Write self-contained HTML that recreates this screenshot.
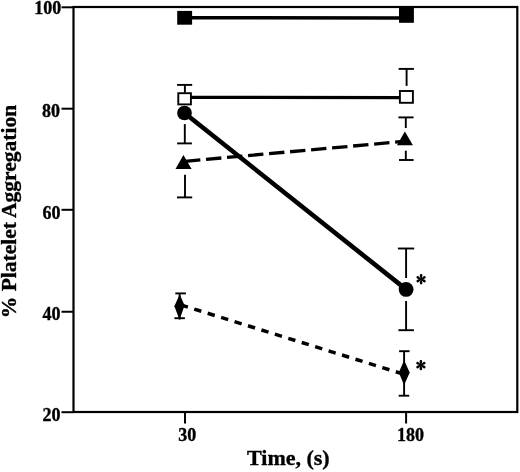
<!DOCTYPE html>
<html><head><meta charset="utf-8">
<style>
html,body{margin:0;padding:0;background:#fff;}
body{width:520px;height:472px;overflow:hidden;}
svg{display:block;will-change:transform;}
text{font-family:"Liberation Serif",serif;font-weight:bold;fill:#000;stroke:#000;stroke-width:0.35px;}
</style></head>
<body>
<svg width="520" height="472" viewBox="0 0 520 472">
<rect x="0" y="0" width="520" height="472" fill="#fff"/>
<!-- frame -->
<rect x="73.5" y="7" width="443.8" height="405" fill="none" stroke="#000" stroke-width="2.2"/>
<!-- y ticks -->
<g stroke="#000" stroke-width="2">
<line x1="61.5" y1="7.3" x2="73.5" y2="7.3"/>
<line x1="61.5" y1="108.7" x2="73.5" y2="108.7"/>
<line x1="61.5" y1="209.8" x2="73.5" y2="209.8"/>
<line x1="61.5" y1="311.75" x2="73.5" y2="311.75"/>
<line x1="61.5" y1="412.2" x2="73.5" y2="412.2"/>
<line x1="185" y1="412" x2="185" y2="423.5"/>
<line x1="406.1" y1="412" x2="406.1" y2="423.5"/>
</g>
<!-- y tick labels -->
<g font-size="18" text-anchor="end">
<text x="61.2" y="13.7">100</text>
<text x="60" y="117">80</text>
<text x="60.4" y="218.5">60</text>
<text x="60.4" y="320">40</text>
<text x="60.4" y="421">20</text>
</g>
<g font-size="18" text-anchor="middle">
<text x="187.2" y="441">30</text>
<text x="410.6" y="441.3">180</text>
</g>
<text x="247" y="465" font-size="22">Time, (s)</text>
<text transform="translate(15.6,318.2) rotate(-90)" font-size="21.5">% Platelet Aggregation</text>

<!-- filled square series -->
<line x1="184.7" y1="17.75" x2="406.4" y2="18" stroke="#000" stroke-width="3.5"/>
<rect x="177.2" y="10.9" width="14.9" height="13.8" fill="#000"/>
<rect x="399" y="7.8" width="14.9" height="15" fill="#000"/>

<!-- open square series -->
<line x1="184.6" y1="97.4" x2="406.4" y2="97.6" stroke="#000" stroke-width="3.2"/>
<g stroke="#000" stroke-width="1.9" fill="none">
<line x1="177.1" y1="84.9" x2="192.2" y2="84.9"/>
<line x1="184.9" y1="84.9" x2="184.9" y2="92.5"/>
<line x1="398.6" y1="68.9" x2="413.9" y2="68.9"/>
<line x1="406.6" y1="68.9" x2="406.6" y2="85.9"/>
</g>
<rect x="178.3" y="93.2" width="12.6" height="11.2" fill="#fff" stroke="#000" stroke-width="1.9"/>
<rect x="399.9" y="91" width="13" height="11.8" fill="#fff" stroke="#000" stroke-width="1.9"/>

<!-- circle series -->
<line x1="184.5" y1="113" x2="406.1" y2="289.4" stroke="#000" stroke-width="4.6"/>
<g stroke="#000" stroke-width="1.9" fill="none">
<line x1="184.8" y1="124.1" x2="184.8" y2="143.4"/>
<line x1="177.1" y1="143.4" x2="191.9" y2="143.4"/>
<line x1="397.9" y1="248.5" x2="414.2" y2="248.5"/>
<line x1="406.1" y1="248.5" x2="406.1" y2="278"/>
<line x1="406.1" y1="301" x2="406.1" y2="330.2"/>
<line x1="398.4" y1="330.2" x2="413.9" y2="330.2"/>
</g>
<circle cx="184.5" cy="113" r="7.35" fill="#000"/>
<circle cx="406.1" cy="289.4" r="7.4" fill="#000"/>

<!-- triangle series -->
<line x1="185" y1="161.3" x2="406" y2="141.2" stroke="#000" stroke-width="3.3" stroke-dasharray="15.4 5.7"/>
<g stroke="#000" stroke-width="1.9" fill="none">
<line x1="185" y1="174.8" x2="185" y2="197.4"/>
<line x1="177" y1="197.4" x2="192.2" y2="197.4"/>
<line x1="398.4" y1="117.4" x2="413.6" y2="117.4"/>
<line x1="405.8" y1="117.4" x2="405.8" y2="128"/>
<line x1="405.8" y1="150.7" x2="405.8" y2="160"/>
<line x1="399" y1="160" x2="413.6" y2="160"/>
</g>
<polygon points="183.4,155.1 191.6,169.1 175.5,169.1" fill="#000"/>
<polygon points="404.9,131.4 412.9,145.2 396.9,145.2" fill="#000"/>

<!-- diamond series -->
<line x1="179.5" y1="304.5" x2="404" y2="374.3" stroke="#000" stroke-width="3.5" stroke-dasharray="7.4 6.67" stroke-dashoffset="-1.37"/>
<g stroke="#000" stroke-width="1.9" fill="none">
<line x1="175.3" y1="293.4" x2="185.9" y2="293.4"/>
<line x1="174.4" y1="318.2" x2="184.9" y2="318.2"/>
<line x1="179.6" y1="293.4" x2="179.6" y2="319.5"/>
<line x1="399.1" y1="351.2" x2="409.6" y2="351.2"/>
<line x1="404.1" y1="351.2" x2="404.1" y2="395.7"/>
<line x1="398.7" y1="395.7" x2="409.2" y2="395.7"/>
</g>
<polygon points="179.7,294.2 184.6,305.6 179.5,319.8 174.4,306.3" fill="#000"/>
<polygon points="404.1,360.2 409.7,372.4 404.1,385.2 398.8,372.4" fill="#000"/>

<!-- asterisks -->
<g transform="translate(421.1,279.2)" fill="#000"><path transform="rotate(0)" d="M-0.45,0 C-0.7,-1.4 -1.35,-2.8 -1.3,-3.85 A1.3,1.35 0 0 1 1.3,-3.85 C1.35,-2.8 0.7,-1.4 0.45,0 Z"/><path transform="rotate(60)" d="M-0.45,0 C-0.7,-1.4 -1.35,-2.8 -1.3,-3.85 A1.3,1.35 0 0 1 1.3,-3.85 C1.35,-2.8 0.7,-1.4 0.45,0 Z"/><path transform="rotate(120)" d="M-0.45,0 C-0.7,-1.4 -1.35,-2.8 -1.3,-3.85 A1.3,1.35 0 0 1 1.3,-3.85 C1.35,-2.8 0.7,-1.4 0.45,0 Z"/><path transform="rotate(180)" d="M-0.45,0 C-0.7,-1.4 -1.35,-2.8 -1.3,-3.85 A1.3,1.35 0 0 1 1.3,-3.85 C1.35,-2.8 0.7,-1.4 0.45,0 Z"/><path transform="rotate(240)" d="M-0.45,0 C-0.7,-1.4 -1.35,-2.8 -1.3,-3.85 A1.3,1.35 0 0 1 1.3,-3.85 C1.35,-2.8 0.7,-1.4 0.45,0 Z"/><path transform="rotate(300)" d="M-0.45,0 C-0.7,-1.4 -1.35,-2.8 -1.3,-3.85 A1.3,1.35 0 0 1 1.3,-3.85 C1.35,-2.8 0.7,-1.4 0.45,0 Z"/><circle r="1"/></g>
<g transform="translate(420.9,365.1)" fill="#000"><path transform="rotate(0)" d="M-0.45,0 C-0.7,-1.4 -1.35,-2.8 -1.3,-3.85 A1.3,1.35 0 0 1 1.3,-3.85 C1.35,-2.8 0.7,-1.4 0.45,0 Z"/><path transform="rotate(60)" d="M-0.45,0 C-0.7,-1.4 -1.35,-2.8 -1.3,-3.85 A1.3,1.35 0 0 1 1.3,-3.85 C1.35,-2.8 0.7,-1.4 0.45,0 Z"/><path transform="rotate(120)" d="M-0.45,0 C-0.7,-1.4 -1.35,-2.8 -1.3,-3.85 A1.3,1.35 0 0 1 1.3,-3.85 C1.35,-2.8 0.7,-1.4 0.45,0 Z"/><path transform="rotate(180)" d="M-0.45,0 C-0.7,-1.4 -1.35,-2.8 -1.3,-3.85 A1.3,1.35 0 0 1 1.3,-3.85 C1.35,-2.8 0.7,-1.4 0.45,0 Z"/><path transform="rotate(240)" d="M-0.45,0 C-0.7,-1.4 -1.35,-2.8 -1.3,-3.85 A1.3,1.35 0 0 1 1.3,-3.85 C1.35,-2.8 0.7,-1.4 0.45,0 Z"/><path transform="rotate(300)" d="M-0.45,0 C-0.7,-1.4 -1.35,-2.8 -1.3,-3.85 A1.3,1.35 0 0 1 1.3,-3.85 C1.35,-2.8 0.7,-1.4 0.45,0 Z"/><circle r="1"/></g>
</svg>
</body></html>
